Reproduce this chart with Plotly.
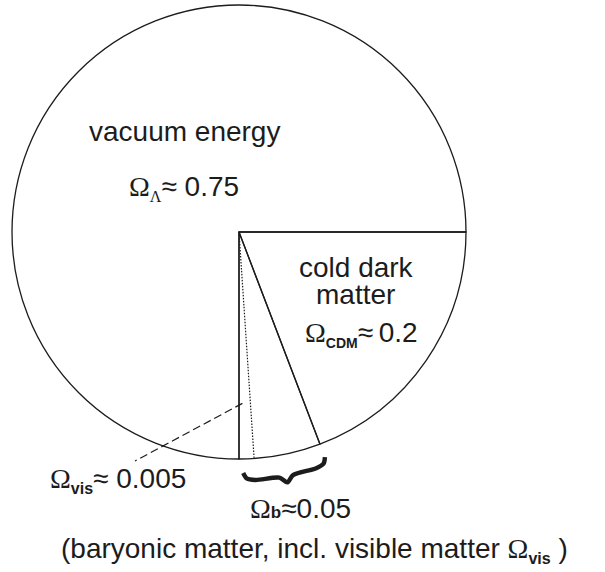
import numpy as np
import plotly.graph_objects as go

W, H = 605, 572

# ---- data (slice shares as drawn in the picture) ----
slice_labels = ["cold dark matter", "baryonic matter", "vacuum energy"]
slice_shares = [0.192, 0.058, 0.750]
visible_share = 0.0106          # visible matter part of the baryonic slice
omega_values = {"vac": "0.75", "cdm": "0.2", "b": "0.05", "vis": "0.005"}

# ---- geometry (pixels) ----
CX, CY, R = 239.0, 232.0, 227.0
START = 90.0   # first slice starts at 3 o'clock, clockwise
INK = "#1c1c1c"
SERIF = "Liberation Serif"
SANS = "Liberation Sans"


def polar(theta_deg, r):
    t = np.radians(theta_deg)
    return CX + r * np.sin(t), CY - r * np.cos(t)


fig = go.Figure()

# pie (transparent fill so the overlay lines stay visible)
fig.add_trace(go.Pie(
    labels=slice_labels, values=slice_shares, sort=False,
    direction="clockwise", rotation=START,
    marker=dict(colors=["rgba(0,0,0,0)"] * 3, line=dict(color=INK, width=1.3)),
    textinfo="none", hoverinfo="label+percent", showlegend=False,
    domain=dict(x=[(CX - R) / W, (CX + R) / W],
                y=[(H - (CY + R)) / H, (H - (CY - R)) / H]),
))

cum = np.cumsum(slice_shares)
b_cdm = START + 360 * cum[0]          # boundary CDM / baryonic
b_bar = START + 360 * cum[1]          # boundary baryonic / vacuum
b_vis = b_bar - 360 * visible_share   # dotted boundary of visible matter

# dotted line for visible matter
x1, y1 = polar(b_vis, R)
fig.add_trace(go.Scatter(x=[CX, x1], y=[CY, y1], mode="lines",
                         line=dict(color=INK, width=1.2, dash="1.5px,1.5px"),
                         hoverinfo="skip", showlegend=False))

# dashed leader to Omega_vis label
lx0, ly0 = polar(b_bar - 360 * visible_share * 0.3, 0.755 * R)
fig.add_trace(go.Scatter(x=[lx0, 135], y=[ly0, 461], mode="lines",
                         line=dict(color=INK, width=1.2, dash="8px,4px"),
                         hoverinfo="skip", showlegend=False))

# curly brace under the baryonic slice
t_pts = np.array([0.0, 0.04, 0.14, 0.42, 0.5, 0.58, 0.86, 0.96, 1.0])
off = np.array([14, 19.5, 21.5, 22, 28, 22, 21.5, 19.5, 14])
th0, th1 = b_bar - 1.0, b_cdm
bx, by = [], []
for t, o in zip(t_pts, off):
    px, py = polar(th0 + (th1 - th0) * t, R + o)
    bx.append(px)
    by.append(py)
fig.add_trace(go.Scatter(x=bx, y=by, mode="lines",
                         line=dict(color=INK, width=4.4, shape="spline", smoothing=0.8),
                         hoverinfo="skip", showlegend=False))


def om(sub, sub_size, value="", shift=True):
    s = f'<span style="font-family:{SANS};font-size:{sub_size}px"><b>{sub}</b></span>'
    if shift:
        s = "<sub>" + s + "</sub>"
    return f'<span style="font-family:{SERIF}">Ω</span>{s}≈{value}'


texts = [
    ("vacuum energy", 184, 131),
    (f'<span style="font-family:{SERIF}">Ω<sub><span style="font-size:16px">Λ</span></sub></span>≈ ' + omega_values["vac"], 184, 188),
    ("cold dark", 356, 267.5),
    ("matter", 355, 294),
    (om("CDM", 14, value="\u2009" + omega_values["cdm"]), 361, 334),
    (om("vis", 16, value=" " + omega_values["vis"]), 118, 480),
    (om("b", 17, value=omega_values["b"], shift=False), 300, 508),
    (f'(baryonic matter, incl. visible matter <span style="font-family:{SERIF}">Ω</span>'
     f'<sub><span style="font-size:16px"><b>vis</b></span></sub> )', 314, 550),
]
for txt, x, y in texts:
    fig.add_annotation(x=x, y=y, xref="x", yref="y", text=txt, showarrow=False,
                       xanchor="center", yanchor="middle",
                       font=dict(family=SANS, size=28, color=INK))

fig.update_xaxes(range=[0, W], visible=False, fixedrange=True)
fig.update_yaxes(range=[H, 0], visible=False, fixedrange=True)
fig.update_layout(width=W, height=H, margin=dict(l=0, r=0, t=0, b=0),
                  paper_bgcolor="white", plot_bgcolor="rgba(0,0,0,0)",
                  showlegend=False)

fig.write_html("out.html", config={"displayModeBar": False},
               post_script="document.body.style.margin='0';document.body.style.padding='0';")
